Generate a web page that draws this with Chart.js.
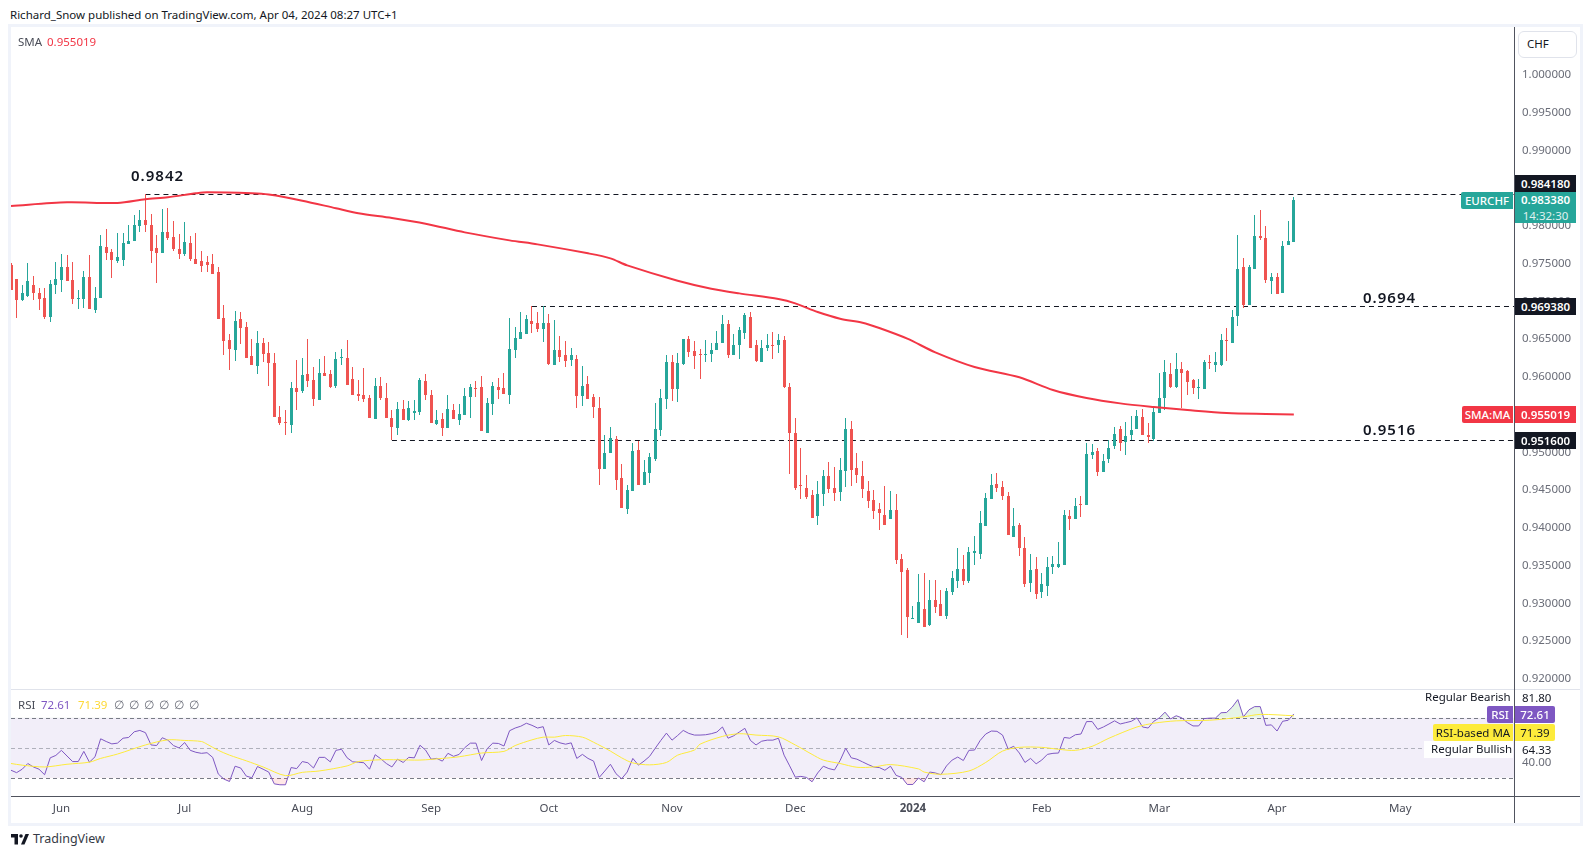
<!DOCTYPE html>
<html>
<head>
<meta charset="utf-8">
<title>EURCHF</title>
<script src="https://cdn.jsdelivr.net/npm/chart.js"></script>
<style>
  html, body { margin: 0; padding: 0; background: #fff; width: 1590px; height: 857px; overflow: hidden; }
  body { font-family: "Noto Sans", sans-serif; font-size: 11.5px; color: #131722; }
  canvas { position: absolute; left: 11px; }
  #mainChart { top: 27px; }
  #rsiChart { top: 690px; }
  .t { position: absolute; white-space: nowrap; line-height: 1; }
  .box { position: absolute; }
  .badge { position: absolute; color: #fff; font-weight: 600; text-align: center; font-size: 11.5px; white-space: nowrap; }
  .level { position: absolute; font-size: 15px; font-weight: 600; letter-spacing: 1px; color: #131722; line-height: 1; }
</style>
</head>
<body>

<!-- frame -->
<div class="box" style="left:8px;top:24px;width:1575px;height:3px;background:#f0f3fa"></div>
<div class="box" style="left:8px;top:823px;width:1575px;height:3px;background:#f0f3fa"></div>
<div class="box" style="left:8px;top:24px;width:3px;height:802px;background:#f0f3fa"></div>
<div class="box" style="left:1580px;top:24px;width:3px;height:802px;background:#f0f3fa"></div>

<canvas id="mainChart" width="1569" height="662"></canvas>
<canvas id="rsiChart" width="1569" height="133"></canvas>

<!-- pane lines -->
<div class="box" style="left:11px;top:689px;width:1569px;height:1px;background:#e0e3eb"></div>
<div class="box" style="left:11px;top:796px;width:1569px;height:1px;background:#50535e"></div>
<div class="box" style="left:1514px;top:27px;width:1px;height:796px;background:#50535e"></div>

<div class="t" style="left:10px;top:9px">Richard_Snow published on TradingView.com, Apr 04, 2024 08:27 UTC+1</div>
<div class="t" style="left:18px;top:36px;color:#4a4d58">SMA</div>
<div class="t" style="left:47px;top:36px;color:#f23645">0.955019</div>

<div class="box" style="left:1518px;top:31px;width:57px;height:25px;border:1px solid #e0e3eb;border-radius:6px;background:#fff"></div>
<div class="t" style="left:1527px;top:38px;color:#131722">CHF</div>

<div class="level" style="left:131px;top:168px">0.9842</div>
<div class="level" style="left:1363px;top:290px">0.9694</div>
<div class="level" style="left:1363px;top:422px">0.9516</div>

<!-- price badges -->
<div class="badge" style="left:1461px;top:192px;width:52px;height:17px;line-height:17px;background:#26a69a;font-weight:500;border-radius:2px 0 0 2px">EURCHF</div>
<div class="badge" style="left:1515px;top:175px;width:61px;height:17px;line-height:17px;background:#131722">0.984180</div>
<div class="badge" style="left:1515px;top:192px;width:61px;height:31px;background:#26a69a;line-height:16px">0.983380<br><span style="font-weight:400;opacity:.85">14:32:30</span></div>
<div class="badge" style="left:1515px;top:298px;width:61px;height:17px;line-height:17px;background:#131722">0.969380</div>
<div class="badge" style="left:1462px;top:406px;width:51px;height:17px;line-height:17px;background:#f23645;font-weight:500;border-radius:2px 0 0 2px">SMA:MA</div>
<div class="badge" style="left:1515px;top:406px;width:61px;height:17px;line-height:17px;background:#f23645">0.955019</div>
<div class="badge" style="left:1515px;top:432px;width:61px;height:17px;line-height:17px;background:#131722">0.951600</div>

<!-- rsi legend -->
<div class="t" style="left:18px;top:699px;color:#4a4d58">RSI</div>
<div class="t" style="left:41px;top:699px;color:#7e57c2">72.61</div>
<div class="t" style="left:78px;top:699px;color:#fdd835">71.39</div>
<div class="t" style="left:114px;top:699px;color:#6a6d78;word-spacing:2px">∅ ∅ ∅ ∅ ∅ ∅</div>

<div class="t" style="left:1425px;top:691px;color:#131722">Regular Bearish</div>
<div class="t" style="left:1522px;top:692px;color:#131722">81.80</div>
<div class="badge" style="left:1487px;top:706px;width:26px;height:17px;line-height:17px;background:#7e57c2;font-weight:500;border-radius:2px 0 0 2px">RSI</div>
<div class="badge" style="left:1515px;top:706px;width:40px;height:17px;line-height:17px;background:#7e57c2;border-radius:0 2px 2px 0;font-weight:500">72.61</div>
<div class="badge" style="left:1433px;top:724px;width:80px;height:17px;line-height:17px;background:#fdeb3b;color:#131722;font-weight:400;border-radius:2px 0 0 2px">RSI-based MA</div>
<div class="badge" style="left:1515px;top:724px;width:40px;height:17px;line-height:17px;background:#fdeb3b;color:#131722;border-radius:0 2px 2px 0;font-weight:400">71.39</div>
<div class="box" style="left:1424px;top:741px;width:89px;height:17px;background:#fff"></div>
<div class="t" style="left:1431px;top:743px;color:#131722">Regular Bullish</div>
<div class="t" style="left:1522px;top:744px;color:#131722">64.33</div>

<!-- logo -->
<svg class="box" style="left:10px;top:834px" width="20" height="12" viewBox="0 0 36 24">
  <path d="M14 0H0v7h7v14h7V0z" fill="#131722"/>
  <circle cx="20" cy="4" r="3.6" fill="#131722"/>
  <path d="M29 0h7l-9 21h-7l9-21z" fill="#131722"/>
</svg>
<div class="t" style="left:33px;top:833px;font-size:12.5px;color:#363a45">TradingView</div>

<script>
// EURCHF daily candles
const opens = [
  0.97482,0.97297,0.97019,0.97072,0.97217,0.97111,0.97045,0.96794,0.97217,0.97284,
  0.97456,0.97284,0.97036,0.97032,0.97323,0.96886,0.97045,0.97721,0.97654,0.97535,
  0.97548,0.97760,0.97800,0.97999,0.98078,0.98012,0.97707,0.97641,0.97919,0.97853,
  0.97694,0.97628,0.97774,0.97562,0.97535,0.97522,0.97496,0.97390,0.96780,0.96489,
  0.96356,0.96767,0.96661,0.96277,0.96145,0.96449,0.96317,0.96184,0.95469,0.95403,
  0.95363,0.95853,0.95813,0.96039,0.95959,0.95694,0.96052,0.96039,0.95880,0.96250,
  0.96250,0.95972,0.95774,0.95760,0.95721,0.95442,0.95880,0.95721,0.95456,0.95323,
  0.95578,0.95432,0.95525,0.95538,0.95949,0.95763,0.95379,0.95445,0.95326,0.95565,
  0.95432,0.95498,0.95737,0.95856,0.95869,0.95260,0.95644,0.95869,0.95856,0.95763,
  0.96359,0.96505,0.96571,0.96743,0.96717,0.96637,0.96717,0.96161,0.96359,0.96293,
  0.96227,0.96240,0.95750,0.95909,0.95737,0.95591,0.94783,0.94995,0.95180,0.94664,
  0.94253,0.94492,0.95035,0.94571,0.94730,0.94916,0.95300,0.95710,0.96200,0.95843,
  0.96174,0.96505,0.96346,0.96306,0.96293,0.96306,0.96359,0.96452,0.96704,0.96293,
  0.96426,0.96584,0.96796,0.96426,0.96200,0.96386,0.96426,0.96426,0.96488,0.95865,
  0.95257,0.94568,0.94528,0.94436,0.94158,0.94449,0.94687,0.94528,0.94475,0.94754,
  0.95310,0.94793,0.94687,0.94489,0.94369,0.94250,0.94171,0.94118,0.94237,0.93588,
  0.93442,0.92793,0.92740,0.92926,0.92714,0.93045,0.92992,0.92833,0.93151,0.93297,
  0.93456,0.93297,0.93668,0.93654,0.94025,0.94383,0.94581,0.94542,0.94422,0.93879,
  0.94038,0.93734,0.93270,0.93456,0.93151,0.93230,0.93482,0.93482,0.93509,0.94158,
  0.94118,0.94317,0.94303,0.94966,0.95019,0.94740,0.94913,0.95085,0.95310,0.95138,
  0.95230,0.95310,0.95469,0.95230,0.95180,0.95521,0.95720,0.96038,0.95866,0.96104,
  0.96078,0.95959,0.95853,0.95839,0.96197,0.96157,0.96157,0.96488,0.96449,0.96806,
  0.97455,0.96952,0.97429,0.97866,0.97839,0.97270,0.97323,0.97111,0.97747,0.97786
];
const highs = [
  0.97504,0.97297,0.97217,0.97509,0.97337,0.97178,0.97178,0.97284,0.97522,0.97628,
  0.97615,0.97522,0.97151,0.97403,0.97615,0.97191,0.97880,0.97959,0.97694,0.97906,
  0.97906,0.98012,0.98145,0.98211,0.98423,0.98158,0.97880,0.98224,0.98237,0.98065,
  0.97893,0.98052,0.97866,0.97906,0.97668,0.97601,0.97628,0.97456,0.96952,0.96568,
  0.96873,0.96860,0.96727,0.96502,0.96608,0.96515,0.96462,0.96317,0.95615,0.95562,
  0.95933,0.96224,0.96250,0.96502,0.96131,0.96237,0.96277,0.96092,0.96330,0.96370,
  0.96489,0.96131,0.95959,0.96118,0.95760,0.95986,0.95999,0.95919,0.95562,0.95668,
  0.95697,0.95684,0.95697,0.95988,0.96041,0.95829,0.95565,0.95525,0.95763,0.95644,
  0.95644,0.95856,0.95909,0.95949,0.96015,0.95724,0.95935,0.95988,0.96055,0.96783,
  0.96664,0.96863,0.96823,0.96942,0.96863,0.96942,0.96836,0.96757,0.96545,0.96479,
  0.96386,0.96293,0.96147,0.96015,0.95777,0.95737,0.95233,0.95339,0.95220,0.94849,
  0.94571,0.95128,0.95154,0.94902,0.94995,0.95657,0.95843,0.96293,0.96293,0.96320,
  0.96505,0.96545,0.96479,0.96373,0.96492,0.96452,0.96611,0.96823,0.96757,0.96571,
  0.96664,0.96849,0.96863,0.96492,0.96492,0.96571,0.96598,0.96571,0.96541,0.95918,
  0.95456,0.95058,0.94701,0.94502,0.94621,0.94767,0.94873,0.94807,0.94926,0.95456,
  0.95416,0.94992,0.94886,0.94621,0.94502,0.94330,0.94555,0.94489,0.94449,0.93654,
  0.93469,0.92966,0.93389,0.93403,0.93310,0.93310,0.93177,0.93204,0.93429,0.93734,
  0.93641,0.93747,0.93893,0.94224,0.94462,0.94714,0.94727,0.94621,0.94475,0.94264,
  0.94065,0.93879,0.93654,0.93615,0.93403,0.93615,0.93628,0.93813,0.94237,0.94237,
  0.94396,0.94422,0.95124,0.95111,0.95058,0.94979,0.95164,0.95336,0.95350,0.95403,
  0.95482,0.95562,0.95575,0.95389,0.95615,0.96047,0.96223,0.96184,0.96316,0.96197,
  0.96091,0.95972,0.95972,0.96223,0.96290,0.96329,0.96568,0.96647,0.96886,0.97879,
  0.97574,0.97482,0.98144,0.98210,0.97998,0.97376,0.97376,0.97800,0.98065,0.98382
];
const lows = [
  0.97151,0.96785,0.97005,0.97058,0.97019,0.96886,0.96767,0.96727,0.97098,0.97125,
  0.97270,0.96966,0.96899,0.96913,0.96899,0.96846,0.97045,0.97548,0.97310,0.97509,
  0.97469,0.97760,0.97800,0.97919,0.97919,0.97509,0.97244,0.97641,0.97813,0.97668,
  0.97562,0.97601,0.97535,0.97496,0.97390,0.97390,0.97363,0.96767,0.96290,0.96092,
  0.96211,0.96436,0.96250,0.96158,0.96039,0.96198,0.95880,0.95469,0.95363,0.95231,
  0.95257,0.95562,0.95787,0.95866,0.95615,0.95694,0.96012,0.95853,0.95853,0.96158,
  0.95893,0.95760,0.95681,0.95668,0.95456,0.95442,0.95694,0.95456,0.95164,0.95231,
  0.95432,0.95419,0.95432,0.95498,0.95697,0.95392,0.95366,0.95220,0.95326,0.95445,
  0.95366,0.95498,0.95459,0.95737,0.95286,0.95260,0.95498,0.95710,0.95777,0.95644,
  0.96253,0.96505,0.96571,0.96584,0.96598,0.96465,0.96161,0.96161,0.96200,0.96134,
  0.96147,0.95591,0.95618,0.95710,0.95459,0.94571,0.94783,0.94995,0.94505,0.94267,
  0.94187,0.94492,0.94571,0.94571,0.94598,0.94889,0.95220,0.95578,0.95684,0.95671,
  0.96161,0.96267,0.96108,0.95975,0.96200,0.96200,0.96359,0.96452,0.96253,0.96293,
  0.96240,0.96505,0.96386,0.96200,0.96200,0.96346,0.96240,0.96320,0.95852,0.94714,
  0.94502,0.94383,0.94383,0.94131,0.94038,0.94290,0.94462,0.94356,0.94356,0.94542,
  0.94555,0.94595,0.94396,0.94264,0.94118,0.93972,0.94038,0.94118,0.93522,0.92581,
  0.92542,0.92793,0.92740,0.92687,0.92701,0.92873,0.92833,0.92793,0.93111,0.93204,
  0.93244,0.93270,0.93509,0.93588,0.94025,0.94383,0.94475,0.94369,0.93906,0.93879,
  0.93628,0.93217,0.93151,0.93058,0.93071,0.93098,0.93389,0.93469,0.93509,0.93972,
  0.94118,0.94144,0.94303,0.94913,0.94687,0.94740,0.94860,0.95045,0.95019,0.94966,
  0.95164,0.95310,0.95230,0.95124,0.95151,0.95521,0.95561,0.95853,0.95853,0.95588,
  0.95760,0.95773,0.95707,0.95839,0.96104,0.96065,0.96144,0.96210,0.96449,0.96674,
  0.96912,0.96952,0.97429,0.97813,0.97243,0.97098,0.97098,0.97111,0.97747,0.97786
];
const closes = [
  0.97151,0.97019,0.97107,0.97270,0.97111,0.97032,0.96794,0.97231,0.97297,0.97456,
  0.97270,0.97032,0.97045,0.97323,0.96899,0.97045,0.97734,0.97641,0.97548,0.97588,
  0.97774,0.97800,0.98012,0.98078,0.98012,0.97668,0.97641,0.97919,0.97840,0.97694,
  0.97628,0.97787,0.97562,0.97496,0.97469,0.97482,0.97363,0.96767,0.96476,0.96370,
  0.96741,0.96648,0.96250,0.96158,0.96449,0.96303,0.96184,0.95469,0.95390,0.95390,
  0.95853,0.95800,0.96025,0.95946,0.95707,0.96052,0.96012,0.95866,0.96237,0.96264,
  0.95893,0.95760,0.95747,0.95707,0.95456,0.95880,0.95721,0.95456,0.95337,0.95575,
  0.95432,0.95591,0.95551,0.95962,0.95763,0.95392,0.95432,0.95326,0.95578,0.95445,
  0.95512,0.95750,0.95869,0.95843,0.95286,0.95657,0.95882,0.95829,0.95777,0.96373,
  0.96518,0.96598,0.96770,0.96704,0.96637,0.96717,0.96174,0.96359,0.96267,0.96214,
  0.96293,0.95750,0.95882,0.95710,0.95604,0.94783,0.94995,0.95194,0.94637,0.94267,
  0.94505,0.95022,0.94571,0.94743,0.94942,0.95313,0.95724,0.96200,0.95843,0.96187,
  0.96505,0.96333,0.96280,0.96293,0.96306,0.96359,0.96452,0.96704,0.96293,0.96426,
  0.96624,0.96823,0.96386,0.96214,0.96386,0.96426,0.96417,0.96492,0.95865,0.95252,
  0.94528,0.94555,0.94409,0.94131,0.94449,0.94687,0.94515,0.94462,0.94767,0.95310,
  0.94767,0.94701,0.94515,0.94356,0.94224,0.94197,0.94038,0.94237,0.93575,0.93416,
  0.92820,0.92807,0.93019,0.92687,0.93045,0.92952,0.92833,0.93164,0.93336,0.93456,
  0.93297,0.93681,0.93694,0.94065,0.94396,0.94568,0.94528,0.94422,0.93906,0.94025,
  0.93734,0.93257,0.93442,0.93124,0.93257,0.93482,0.93522,0.93522,0.94171,0.94118,
  0.94290,0.94303,0.94979,0.95005,0.94740,0.94886,0.95058,0.95244,0.95124,0.95217,
  0.95297,0.95482,0.95230,0.95204,0.95535,0.95720,0.96065,0.95866,0.96104,0.96051,
  0.95932,0.95853,0.95866,0.96197,0.96184,0.96197,0.96488,0.96475,0.96793,0.97429,
  0.96952,0.97455,0.97866,0.97839,0.97283,0.97323,0.97098,0.97733,0.97800,0.98338
];

// 200 day SMA, sampled at the bars where it was read
const smaBars = [0,10,19,24,28,33,35,43,46,52,58,62,68,74,81,89,94,103,107,110,119,125,130,137,140,144,148,152,155,160,165,172,180,186,192,198,204,210,217,224,229];
const smaValues = [0.98264,0.98312,0.98303,0.98352,0.98379,0.98431,0.98445,0.98431,0.98414,0.98334,0.98233,0.98167,0.98104,0.98029,0.97914,0.97808,0.97755,0.97636,0.97570,0.97477,0.97274,0.97168,0.97106,0.97031,0.96974,0.96859,0.96771,0.96718,0.96647,0.96506,0.96325,0.96131,0.95994,0.95826,0.95720,0.95649,0.95601,0.95561,0.95521,0.95508,0.95502];

const levelBars = [24,93,68];
const levelValues = [0.98418,0.96938,0.9516];

const rsiValues = [
  35.0,33.4,35.7,39.5,37.2,35.7,32.0,43.3,44.9,48.3,44.5,40.8,40.8,47.6,40.4,44.0,56.0,54.2,52.6,53.1,
  56.4,56.9,60.7,61.6,60.1,51.9,51.5,56.7,55.1,51.5,49.9,53.5,48.3,47.0,46.3,46.7,43.6,32.5,29.1,27.5,
  37.7,36.5,31.1,30.0,37.5,35.7,33.8,25.9,25.3,25.3,36.8,36.1,40.8,40.0,36.5,43.6,43.6,40.6,48.3,49.0,
  43.3,40.6,40.4,40.0,35.7,45.4,42.7,39.5,37.2,42.4,40.2,43.6,43.3,51.7,48.5,42.4,42.9,41.1,46.3,44.3,
  45.6,50.1,53.1,53.1,41.5,49.4,53.1,52.9,51.2,61.4,63.2,64.4,66.4,65.0,63.2,64.1,51.9,54.9,53.3,52.4,
  53.3,42.9,45.6,42.9,41.1,30.2,34.5,39.0,32.7,29.3,33.8,42.9,38.4,41.1,44.3,49.7,54.9,59.8,55.1,58.2,
  61.6,59.6,58.5,58.5,58.7,59.4,60.5,63.9,56.4,58.0,60.5,63.0,54.9,51.9,54.4,55.1,55.1,56.4,45.1,37.9,
  30.4,30.9,30.2,27.3,33.2,37.7,36.1,35.2,41.5,49.7,43.3,42.4,40.6,38.8,37.2,36.8,35.0,37.7,31.6,30.2,
  25.5,25.5,29.8,27.3,33.8,33.2,32.0,37.9,41.8,43.8,41.5,48.3,48.5,54.9,59.2,61.2,61.0,58.5,49.2,51.0,
  46.5,40.2,42.9,39.3,41.8,45.6,46.3,46.5,56.9,56.4,58.7,59.2,67.5,67.5,62.3,63.9,65.9,68.0,65.9,66.8,
  67.7,70.0,63.9,63.2,67.7,70.0,73.8,69.3,71.4,70.0,66.8,64.6,64.6,69.5,69.8,69.8,73.4,73.6,77.2,82.2,
  70.7,75.4,77.5,77.5,65.0,65.3,61.2,67.7,68.4,72.61
];
const rsiMaBars = [0,2,6,10,14,16,19,24,28,31,34,35,37,39,42,45,49,52,55,60,62,66,69,73,77,80,84,88,90,93,95,97,99,102,104,107,109,111,114,117,119,122,123,127,130,133,137,140,143,145,148,151,154,157,162,163,166,171,174,177,180,184,187,190,193,196,201,204,208,214,220,223,229];
const rsiMaValues = [39.5,38.4,37.2,39.0,40.4,42.9,45.8,51.9,55.3,54.9,54.2,52.4,48.3,45.1,41.3,37.2,31.4,33.6,34.5,37.9,40.8,42.0,42.0,41.8,42.9,44.0,46.5,47.6,51.5,55.3,57.1,57.1,58.2,57.1,53.7,47.8,43.3,39.9,38.6,40.2,45.1,48.5,52.4,57.6,59.4,58.5,57.3,51.9,45.6,41.8,39.5,37.0,37.2,38.8,35.9,33.8,32.3,34.5,40.2,47.8,50.3,50.3,49.0,48.3,51.0,56.4,63.9,66.4,68.0,68.4,70.7,72.3,71.39];
const rsiBands = [70,50,30];

// axes
const monthBars = [9,31,52,75,96,118,140,161,184,205,226,248];
const monthLabels = ['Jun','Jul','Aug','Sep','Oct','Nov','Dec','2024','Feb','Mar','Apr','May'];
const priceTicks = [0.92,0.925,0.93,0.935,0.94,0.945,0.95,0.955,0.96,0.965,0.97,0.975,0.98,0.985,0.99,0.995,1.0];
const rsiTicks = [40];

const UP = '#26a69a';
const DOWN = '#ef5350';
const AXIS_FONT = { family: '"Noto Sans", sans-serif', size: 11.5 };
const X_MIN = 0;
const X_MAX = 268.3;

const candleColors = opens.map((o, i) => closes[i] >= o ? UP : DOWN);

// Snap candles to whole pixels, otherwise the 1px wicks go blurry
const crispBars = {
  id: 'crispBars',
  beforeDatasetsDraw(chart) {
    chart.data.datasets.forEach((ds, n) => {
      const meta = chart.getDatasetMeta(n);
      if (ds.crisp === 'bar') {
        meta.data.forEach(el => {
          el.x = Math.floor(el.x) + 0.5;
          el.y = Math.round(el.y);
          el.base = Math.round(el.base);
          if (el.base === el.y) el.base = el.y + 1;
        });
      } else if (ds.crisp === 'line') {
        meta.data.forEach(el => { el.y = Math.round(el.y) + 0.5; });
      }
    });
  }
};

// RSI band and its 70/50/30 dashed lines
const rsiBand = {
  id: 'rsiBand',
  beforeDatasetsDraw(chart) {
    const { ctx, chartArea, scales } = chart;
    const top = scales.y.getPixelForValue(rsiBands[0]);
    const bottom = scales.y.getPixelForValue(rsiBands[2]);
    ctx.save();
    ctx.fillStyle = 'rgba(126,87,194,0.1)';
    ctx.fillRect(chartArea.left, top, chartArea.right - chartArea.left, bottom - top);
    rsiBands.forEach((v, i) => {
      const y = Math.round(scales.y.getPixelForValue(v)) + 0.5;
      ctx.beginPath();
      ctx.setLineDash([4, 3]);
      ctx.lineWidth = 1;
      ctx.strokeStyle = i === 1 ? 'rgba(120,123,134,0.55)' : '#787b86';
      ctx.moveTo(chartArea.left, y);
      ctx.lineTo(chartArea.right, y);
      ctx.stroke();
    });
    ctx.restore();
  }
};

// The label half-heights would otherwise shrink the plot area
function fitPriceAxis(axis) {
  axis.width = 66;
  axis.paddingTop = 0;
  axis.paddingBottom = 0;
}

const levelDatasets = levelBars.map((b, i) => ({
  type: 'line',
  crisp: 'line',
  data: [{ x: b, y: levelValues[i] }, { x: X_MAX, y: levelValues[i] }],
  borderColor: '#131722',
  borderWidth: 1,
  borderDash: [5, 4],
  pointRadius: 0,
  order: 4
}));

new Chart(document.getElementById('mainChart'), {
  type: 'bar',
  data: {
    datasets: [
      ...levelDatasets,
      {
        crisp: 'bar',
        data: lows.map((l, i) => ({ x: i, y: [l, highs[i]] })),
        backgroundColor: candleColors,
        barThickness: 1,
        grouped: false,
        inflateAmount: 0,
        order: 3
      },
      {
        crisp: 'bar',
        data: opens.map((o, i) => ({ x: i, y: [o, closes[i]] })),
        backgroundColor: candleColors,
        barThickness: 3,
        grouped: false,
        inflateAmount: 0,
        order: 2
      },
      {
        type: 'line',
        data: smaBars.map((b, i) => ({ x: b, y: smaValues[i] })),
        borderColor: '#f23645',
        borderWidth: 2,
        pointRadius: 0,
        tension: 0.3,
        order: 1
      }
    ]
  },
  options: {
    responsive: false,
    animation: false,
    events: [],
    layout: { padding: 0 },
    plugins: { legend: { display: false }, tooltip: { enabled: false } },
    scales: {
      x: { type: 'linear', min: X_MIN, max: X_MAX, display: false, offset: false },
      y: {
        position: 'right',
        min: 0.91866,
        max: 1.00634,
        grid: { display: false },
        border: { display: false },
        afterFit: fitPriceAxis,
        afterBuildTicks(axis) { axis.ticks = priceTicks.map(v => ({ value: v })); },
        ticks: {
          color: '#6a6d78',
          font: AXIS_FONT,
          padding: 0,
          callback: v => v.toFixed(6)
        }
      }
    }
  },
  plugins: [crispBars]
});

new Chart(document.getElementById('rsiChart'), {
  type: 'line',
  data: {
    datasets: [
      {
        data: rsiValues.map((v, i) => ({ x: i, y: v })),
        borderColor: '#7e57c2',
        borderWidth: 1,
        pointRadius: 0,
        fill: { target: { value: 70 }, above: 'rgba(76,175,80,0.14)', below: 'rgba(0,0,0,0)' },
        order: 2
      },
      {
        data: rsiValues.map((v, i) => ({ x: i, y: v })),
        borderWidth: 0,
        pointRadius: 0,
        fill: { target: { value: 30 }, above: 'rgba(0,0,0,0)', below: 'rgba(255,82,82,0.14)' },
        order: 3
      },
      {
        data: rsiMaBars.map((b, i) => ({ x: b, y: rsiMaValues[i] })),
        borderColor: '#fdeb3b',
        borderWidth: 1,
        pointRadius: 0,
        tension: 0.3,
        order: 1
      }
    ]
  },
  options: {
    responsive: false,
    animation: false,
    events: [],
    layout: { padding: 0 },
    plugins: { legend: { display: false }, tooltip: { enabled: false } },
    scales: {
      x: {
        type: 'linear',
        min: X_MIN,
        max: X_MAX,
        grid: { display: false },
        border: { display: false },
        afterFit(axis) {
          axis.height = 27;
          axis.paddingLeft = 0;
          axis.paddingRight = 0;
        },
        afterBuildTicks(axis) { axis.ticks = monthBars.map(v => ({ value: v })); },
        ticks: {
          color: '#4a4d58',
          padding: -2,
          autoSkip: false,
          maxRotation: 0,
          font: ctx => ({
            family: AXIS_FONT.family,
            size: 11.5,
            weight: ctx.tick && ctx.tick.label === '2024' ? 'bold' : 'normal'
          }),
          callback: v => monthLabels[monthBars.indexOf(v)]
        }
      },
      y: {
        position: 'right',
        min: 17.8,
        max: 88.6,
        grid: { display: false },
        border: { display: false },
        afterFit: fitPriceAxis,
        afterBuildTicks(axis) { axis.ticks = rsiTicks.map(v => ({ value: v })); },
        ticks: {
          color: '#6a6d78',
          font: AXIS_FONT,
          padding: 0,
          callback: v => v.toFixed(2)
        }
      }
    }
  },
  plugins: [rsiBand]
});
</script>
</body>
</html>
